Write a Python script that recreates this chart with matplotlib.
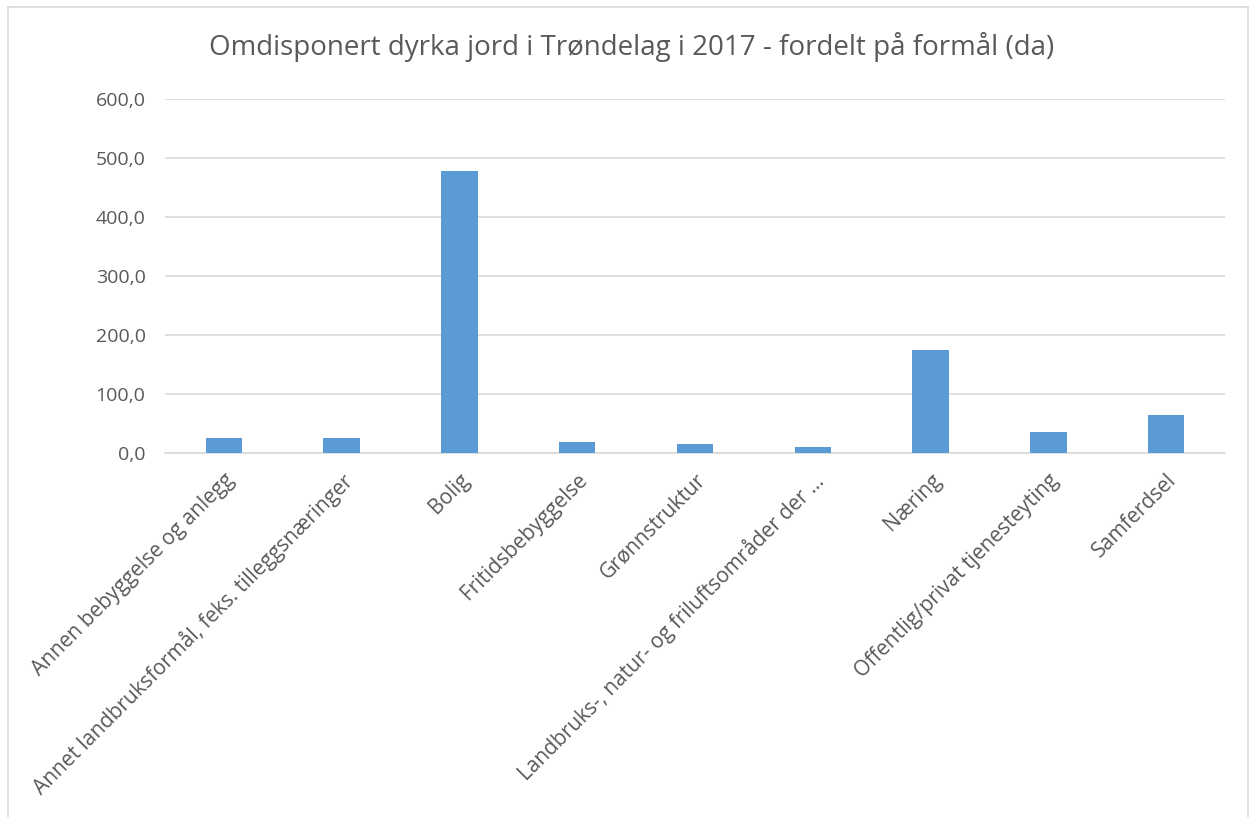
import matplotlib
matplotlib.use("Agg")
import matplotlib.pyplot as plt
from matplotlib.lines import Line2D
from matplotlib.ticker import FuncFormatter

categories = [
    "Annen bebyggelse og anlegg",
    "Annet landbruksformål, feks. tilleggsnæringer",
    "Bolig",
    "Fritidsbebyggelse",
    "Grønnstruktur",
    "Landbruks-, natur- og friluftsområder der …",
    "Næring",
    "Offentlig/privat tjenesteyting",
    "Samferdsel",
]
values = [26.0, 25.0, 478.0, 19.0, 14.5, 10.0, 174.0, 35.0, 64.0]
yticks = [0, 100, 200, 300, 400, 500, 600]
title = "Omdisponert dyrka jord i Trøndelag i 2017 - fordelt på formål (da)"

plt.rcParams['font.family'] = ['Open Sans', 'DejaVu Sans']
txt = '#595959'

fig = plt.figure(figsize=(12.56, 8.17), dpi=100)
ax = fig.add_axes([165/1256, 1-453/817, (1225-165)/1256, (453-99)/817])

x = list(range(len(categories)))
ax.bar(x, values, width=0.31, color='#5b9bd5', zorder=3)
ax.set_xlim(-0.5, len(categories)-0.5)
ax.set_ylim(0, 600)
ax.set_yticks(yticks)
ax.yaxis.set_major_formatter(FuncFormatter(lambda v, p: f"{v:.1f}".replace('.', ',')))
ax.grid(axis='y', color='#d9d9d9', linewidth=1.2, zorder=0)
for s in ['top', 'right', 'left']:
    ax.spines[s].set_visible(False)
ax.spines['bottom'].set_color('#d9d9d9')
ax.spines['bottom'].set_linewidth(1.2)
ax.tick_params(axis='both', length=0, colors=txt)
ax.tick_params(axis='y', pad=14, labelsize=14)
ax.set_xticks(x)
ax.set_xticklabels(categories, rotation=45, ha='right', rotation_mode='anchor', color=txt, fontsize=15)
ax.tick_params(axis='x', pad=12)

fig.text(632/1256, 1-47/817, title, ha='center', va='center', fontsize=20, color=txt)

# chart border
for xs, ys in [([8/1256, 1248/1256], [1-7/817, 1-7/817]),
               ([8/1256, 8/1256], [1-7/817, 0]),
               ([1248/1256, 1248/1256], [1-7/817, 0])]:
    fig.add_artist(Line2D(xs, ys, color='#d9d9d9', linewidth=1.2, transform=fig.transFigure))

fig.savefig('out.png', dpi=100)
